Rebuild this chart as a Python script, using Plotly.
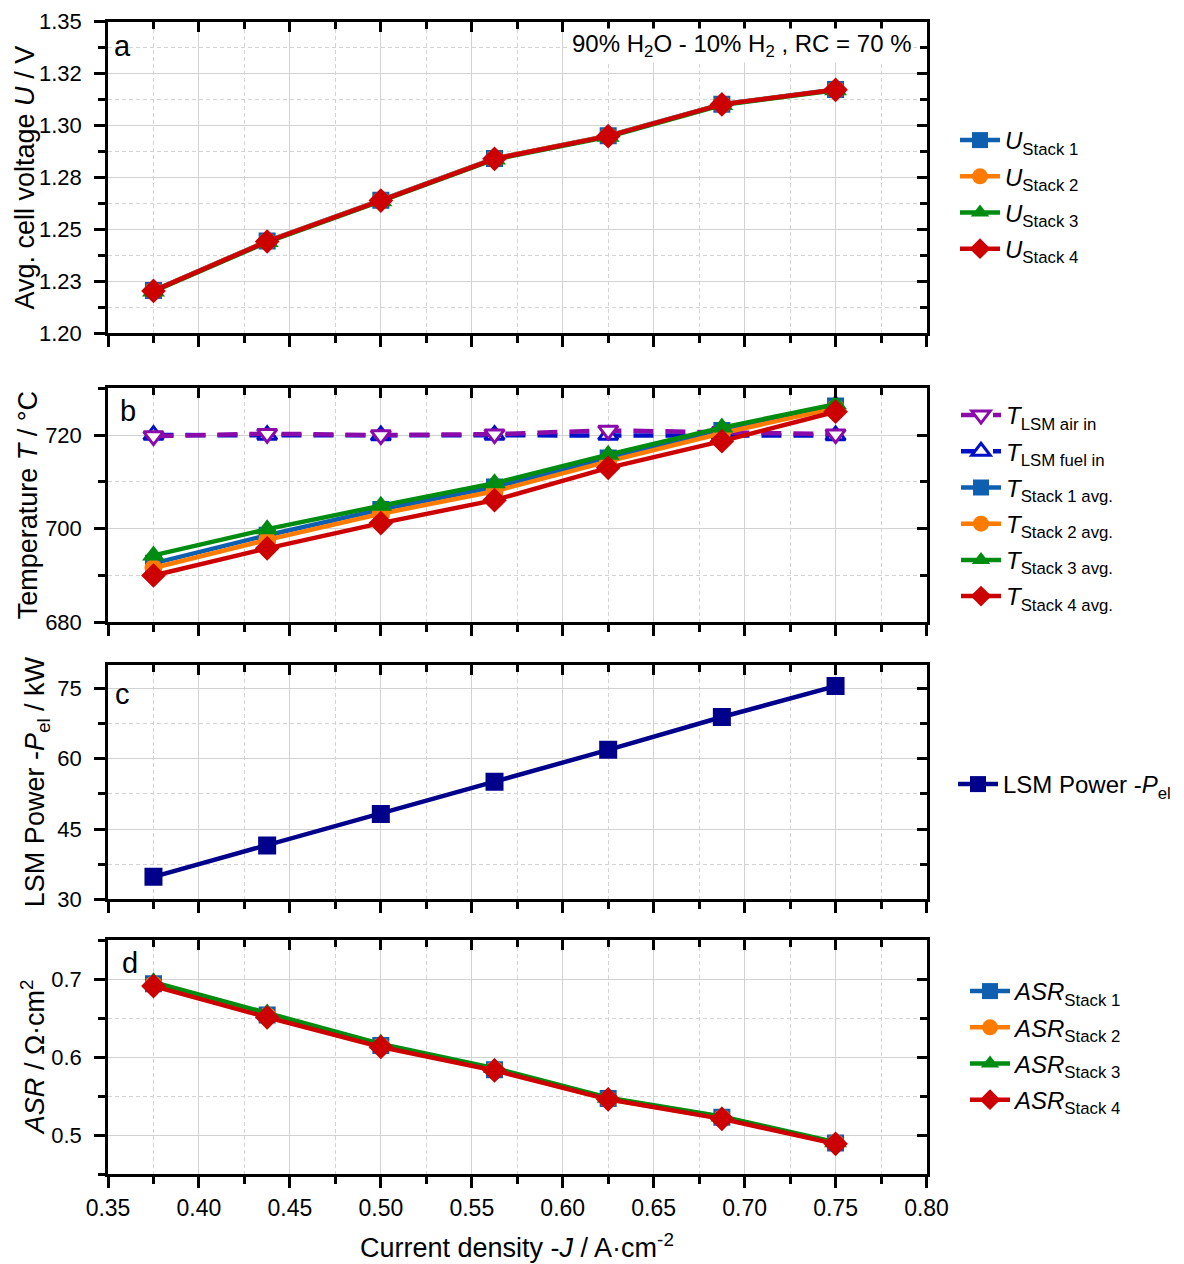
import plotly.graph_objects as go

# ---------------- data ----------------
J = [0.375, 0.4375, 0.5, 0.5625, 0.625, 0.6875, 0.75]

U_stack1 = [1.2206, 1.2444, 1.2641, 1.2842, 1.2951, 1.3103, 1.3174]
U_stack2 = [1.2205, 1.2443, 1.2640, 1.2841, 1.2950, 1.3102, 1.3173]
U_stack3 = [1.2201, 1.2439, 1.2636, 1.2837, 1.2946, 1.3099, 1.3170]
U_stack4 = [1.2204, 1.2442, 1.2639, 1.2840, 1.2949, 1.3102, 1.3172]

T_air_in = [719.8, 720.3, 720.0, 720.2, 721.0, 720.7, 720.2]
T_fuel_in = [720.0, 720.0, 719.9, 720.0, 720.0, 720.0, 719.9]
T_stack1 = [692.6, 698.6, 704.1, 708.9, 715.1, 721.0, 726.2]
T_stack2 = [691.6, 697.6, 703.2, 708.0, 714.4, 720.4, 725.8]
T_stack3 = [694.3, 699.9, 704.9, 709.7, 715.8, 721.6, 726.6]
T_stack4 = [690.0, 695.8, 701.2, 706.1, 713.0, 718.7, 725.0]

P_el = [34.8, 41.5, 48.2, 55.1, 61.9, 68.9, 75.5]

ASR_stack1 = [0.694, 0.654, 0.615, 0.584, 0.547, 0.523, 0.490]
ASR_stack2 = [0.693, 0.653, 0.614, 0.584, 0.546, 0.522, 0.490]
ASR_stack3 = [0.696, 0.656, 0.617, 0.586, 0.548, 0.524, 0.491]
ASR_stack4 = [0.691, 0.651, 0.613, 0.583, 0.546, 0.521, 0.489]

U_ticks = [1.20, 1.225, 1.25, 1.275, 1.30, 1.325, 1.35]
U_ticktext = ["1.20", "1.23", "1.25", "1.28", "1.30", "1.32", "1.35"]

# ---------------- styling ----------------
W, H = 1184, 1264
FONT = "Liberation Sans, Arial, Helvetica, sans-serif"
C1, C2, C3, C4 = "#0f5fb0", "#ff7b00", "#008c10", "#cc0000"
C_AIR, C_FUEL, C_PWR = "#8a0aaa", "#0010c8", "#00008b"
GRID, MINGRID = "#d2d2d2", "#d4d4d4"
LW = 4.5

XL, XR = 108, 926.5
PANELS = [(21.7, 333.3), (388.3, 622.3), (665, 899.3), (940, 1174.3)]


def ydom(top, bot):
    return [1 - bot / H, 1 - top / H]


xdom = [XL / W, XR / W]

fig = go.Figure()


def add(i, x, y, name, color, symbol, size, legend, dash="solid", fill=None, mlw=0, rank=None):
    fig.add_trace(go.Scatter(
        x=x, y=y, name=name, mode="lines+markers",
        xaxis=f"x{i}", yaxis=f"y{i}",
        line=dict(color=color, width=LW, dash=dash),
        marker=dict(symbol=symbol, size=size, color=fill if fill else color,
                    line=dict(color=color, width=mlw)),
        legend=legend, legendgroup=f"{legend}_{name}",
        legendrank=rank if rank else 1000,
        hoverinfo="x+y",
    ))


# panel a
add(1, J, U_stack1, "<i>U</i><sub>Stack 1</sub>", C1, "square", 17, "legend")
add(1, J, U_stack2, "<i>U</i><sub>Stack 2</sub>", C2, "circle", 18, "legend")
add(1, J, U_stack3, "<i>U</i><sub>Stack 3</sub>", C3, "triangle-up", 20, "legend")
add(1, J, U_stack4, "<i>U</i><sub>Stack 4</sub>", C4, "diamond", 19, "legend")

# panel b
add(2, J, T_fuel_in, "<i>T</i><sub>LSM fuel in</sub>", C_FUEL, "triangle-up", 17, "legend2",
    dash="20px,12px", fill="white", mlw=3, rank=2)
add(2, J, T_air_in, "<i>T</i><sub>LSM air in</sub>", C_AIR, "triangle-down", 17, "legend2",
    dash="20px,12px", fill="white", mlw=3, rank=1)
add(2, J, T_stack1, "<i>T</i><sub>Stack 1 avg.</sub>", C1, "square", 17, "legend2", rank=3)
add(2, J, T_stack2, "<i>T</i><sub>Stack 2 avg.</sub>", C2, "circle", 18, "legend2", rank=4)
add(2, J, T_stack3, "<i>T</i><sub>Stack 3 avg.</sub>", C3, "triangle-up", 20, "legend2", rank=5)
add(2, J, T_stack4, "<i>T</i><sub>Stack 4 avg.</sub>", C4, "diamond", 19, "legend2", rank=6)

# panel c
add(3, J, P_el, "LSM Power -<i>P</i><sub>el</sub>", C_PWR, "square", 18, "legend3")

# panel d
add(4, J, ASR_stack1, "<i>ASR</i><sub>Stack 1</sub>", C1, "square", 17, "legend4")
add(4, J, ASR_stack2, "<i>ASR</i><sub>Stack 2</sub>", C2, "circle", 18, "legend4")
add(4, J, ASR_stack3, "<i>ASR</i><sub>Stack 3</sub>", C3, "triangle-up", 20, "legend4")
add(4, J, ASR_stack4, "<i>ASR</i><sub>Stack 4</sub>", C4, "diamond", 19, "legend4")

# dummy traces so the overlay (top / right) tick axes exist
for i in range(1, 5):
    fig.add_trace(go.Scatter(x=[], y=[], xaxis=f"x{i+4}", yaxis=f"y{i}",
                             showlegend=False, hoverinfo="skip"))
    fig.add_trace(go.Scatter(x=[], y=[], xaxis=f"x{i}", yaxis=f"y{i+4}",
                             showlegend=False, hoverinfo="skip"))

yspecs = [
    dict(range=[1.20, 1.35], tickmode="array", tickvals=U_ticks, ticktext=U_ticktext,
         minor=dict(tickmode="linear", tick0=1.2, dtick=0.0125)),
    dict(range=[680, 730], tickmode="linear", tick0=680, dtick=20,
         minor=dict(tickmode="linear", tick0=680, dtick=10)),
    dict(range=[30, 80], tickmode="linear", tick0=30, dtick=15,
         minor=dict(tickmode="linear", tick0=30, dtick=7.5)),
    dict(range=[0.45, 0.75], tickmode="linear", tick0=0.4, dtick=0.1,
         minor=dict(tickmode="linear", tick0=0.4, dtick=0.05)),
]

layout = dict(
    template="none",
    width=W, height=H, margin=dict(l=0, r=0, t=0, b=0, pad=0, autoexpand=False),
    paper_bgcolor="white", plot_bgcolor="white",
    font=dict(family=FONT, color="black", size=20),
)

for i in range(1, 5):
    top, bot = PANELS[i - 1]
    yd = ydom(top, bot)
    xa = dict(domain=xdom, anchor=f"y{i}", range=[0.35, 0.80], automargin=False,
              tickmode="linear", tick0=0.35, dtick=0.05, tickformat=".2f",
              showticklabels=(i == 4), tickfont=dict(size=23, family=FONT),
              ticklabelstandoff=0,
              ticks="outside", ticklen=11, tickwidth=2.5, tickcolor="black",
              showline=True, linecolor="black", linewidth=2.5, mirror=True,
              showgrid=True, gridcolor=GRID, gridwidth=1.2, zeroline=False,
              minor=dict(tickmode="linear", tick0=0.35, dtick=0.025, ticks="outside",
                         ticklen=7, tickwidth=2.5, tickcolor="black", showgrid=True,
                         gridcolor=MINGRID, gridwidth=1, griddash="4px,3px"),
              fixedrange=True)
    ys = yspecs[i - 1]
    ya = dict(domain=yd, anchor=f"x{i}", range=ys["range"], tickmode=ys["tickmode"],
              automargin=False,
              ticks="outside", ticklen=11, tickwidth=2.5, tickcolor="black",
              tickfont=dict(size=22, family=FONT), ticklabelstandoff=8,
              showline=True, linecolor="black", linewidth=2.5, mirror=True,
              showgrid=True, gridcolor=GRID, gridwidth=1.2, zeroline=False,
              fixedrange=True)
    for k in ("tickvals", "ticktext", "tick0", "dtick"):
        if k in ys:
            ya[k] = ys[k]
    mn = dict(ys["minor"])
    mn.update(ticks="outside", ticklen=7, tickwidth=2.5, tickcolor="black", showgrid=True,
              gridcolor=MINGRID, gridwidth=1, griddash="4px,3px")
    ya["minor"] = mn
    layout[f"xaxis{i}"] = xa
    layout[f"yaxis{i}"] = ya

    # overlay axes carrying inward ticks on top / right
    layout[f"xaxis{i+4}"] = dict(overlaying=f"x{i}", anchor=f"y{i}", side="top",
                                 automargin=False,
                                 range=[0.35, 0.80], tickmode="linear", tick0=0.35, dtick=0.05,
                                 showticklabels=False, ticks="inside", ticklen=10, tickwidth=2.5,
                                 tickcolor="black", showline=False, showgrid=False, zeroline=False,
                                 minor=dict(tickmode="linear", tick0=0.35, dtick=0.025,
                                            ticks="inside", ticklen=7, tickwidth=2.5,
                                            tickcolor="black", showgrid=False),
                                 fixedrange=True)
    ov = dict(overlaying=f"y{i}", anchor=f"x{i}", side="right", range=ys["range"],
              automargin=False,
              tickmode=ys["tickmode"], showticklabels=False, ticks="inside", ticklen=10,
              tickwidth=2.5, tickcolor="black", showline=False, showgrid=False,
              zeroline=False, fixedrange=True)
    for k in ("tickvals", "ticktext", "tick0", "dtick"):
        if k in ys:
            ov[k] = ys[k]
    mo = dict(ys["minor"])
    mo.update(ticks="inside", ticklen=7, tickwidth=2.5, tickcolor="black", showgrid=False)
    ov["minor"] = mo
    layout[f"yaxis{i+4}"] = ov


# legends
def legend_cfg(xpx, ypx):
    return dict(x=xpx / W, y=1 - ypx / H, xanchor="left", yanchor="top",
                bgcolor="rgba(0,0,0,0)", borderwidth=0, tracegroupgap=2,
                font=dict(size=24, family=FONT, color="black"), itemwidth=40)


layout["legend"] = legend_cfg(955, 118)
layout["legend2"] = legend_cfg(956, 393)
layout["legend3"] = legend_cfg(953, 762)
layout["legend4"] = legend_cfg(965, 969)

fig.update_layout(**layout)

ann = []
# panel letters
for letter, (lx, ly) in zip("abcd", [(122, 46), (128, 411), (123, 694), (130, 963)]):
    ann.append(dict(text=letter, x=lx / W, y=1 - ly / H, xref="paper", yref="paper",
                    showarrow=False, xanchor="center", yanchor="middle",
                    font=dict(size=29, family=FONT, color="black")))
# condition text
ann.append(dict(text="90% H<sub>2</sub>O - 10% H<sub>2</sub> , RC = 70 %",
                x=914 / W, y=1 - 46 / H, xref="paper", yref="paper", showarrow=False,
                xanchor="right", yanchor="middle", bgcolor="white",
                font=dict(size=24, family=FONT, color="black")))
# y titles
ytitles = [
    ("Avg. cell voltage <i>U</i> / V", 24),
    ("Temperature <i>T</i> / °C", 28),
    ("LSM Power -<i>P</i><sub>el</sub> / kW", 37),
    ("<i>ASR</i> / Ω·cm<sup>2</sup>", 33),
]
for (txt, xc), (top, bot) in zip(ytitles, PANELS):
    ann.append(dict(text=txt, x=xc / W, y=1 - (top + bot) / 2 / H, xref="paper", yref="paper",
                    showarrow=False, textangle=-90, xanchor="center", yanchor="middle",
                    font=dict(size=27, family=FONT, color="black")))
# x title
ann.append(dict(text="Current density -<i>J</i> / A·cm<sup>-2</sup>",
                x=(XL + XR) / 2 / W, y=1 - 1246 / H, xref="paper", yref="paper",
                showarrow=False, xanchor="center", yanchor="middle",
                font=dict(size=27, family=FONT, color="black")))
fig.update_layout(annotations=ann)

fig.write_html("out.html")
